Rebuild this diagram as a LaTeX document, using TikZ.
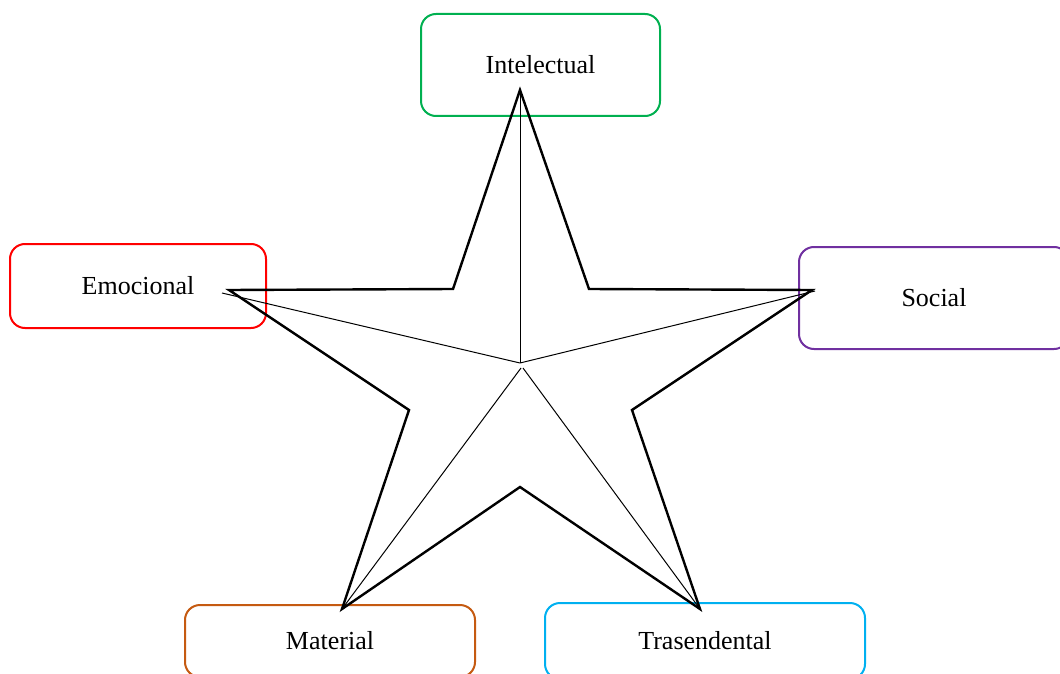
\documentclass[tikz,border=0pt]{standalone}
\usepackage{fontspec}
\setmainfont{Liberation Serif}
\definecolor{cgreen}{RGB}{0,176,80}
\definecolor{cred}{RGB}{255,0,0}
\definecolor{cpurple}{RGB}{112,48,160}
\definecolor{corange}{RGB}{197,90,17}
\definecolor{ccyan}{RGB}{0,176,240}
\begin{document}
\begin{tikzpicture}[x=0.5pt,y=-0.5pt,
  box/.style={draw,line width=1pt,rounded corners=7.5pt,inner sep=0pt,font=\fontsize{13}{15}\selectfont},
  starline/.style={line width=1.2pt,line join=miter},
  spoke/.style={line width=0.5pt}]
\useasboundingbox (0,0) rectangle (1060,674);
% boxes
\node[box,draw=cgreen,minimum width=119.5pt,minimum height=51pt] (intel) at (540.5,65) {Intelectual};
\node[box,draw=cred,minimum width=128pt,minimum height=42pt] (emo) at (138,286) {Emocional};
\node[box,draw=cpurple,minimum width=135pt,minimum height=51pt] (soc) at (934,298) {Social};
\node[box,draw=corange,minimum width=145pt,minimum height=36pt] (mat) at (330,641) {Material};
\node[box,draw=ccyan,minimum width=160pt,minimum height=38pt] (tras) at (705,641) {Trasendental};
% star points
\coordinate (T) at (520,90);
\coordinate (i1) at (589,289);
\coordinate (R) at (812,290);
\coordinate (i2) at (632,410);
\coordinate (BR) at (700,609);
\coordinate (i3) at (520,487);
\coordinate (BL) at (342,609);
\coordinate (i4) at (409,410);
\coordinate (L) at (229,290);
\coordinate (i5) at (453,289);
\coordinate (C) at (520,363);
\coordinate (Lx) at (222,293);
\coordinate (Rx) at (815,291);
\coordinate (Cl) at (521,368);
\coordinate (Cr) at (523,368);
\draw[starline] (T) -- (i1) -- (R) -- (i2) -- (BR) -- (i3) -- (BL) -- (i4) -- (L) -- (i5) -- cycle;
\draw[spoke] (T) -- (C);
\draw[spoke] (Lx) -- (C);
\draw[spoke] (Rx) -- (C);
\draw[spoke] (Cl) -- (BL);
\draw[spoke] (Cr) -- (BR);
\end{tikzpicture}
\end{document}
